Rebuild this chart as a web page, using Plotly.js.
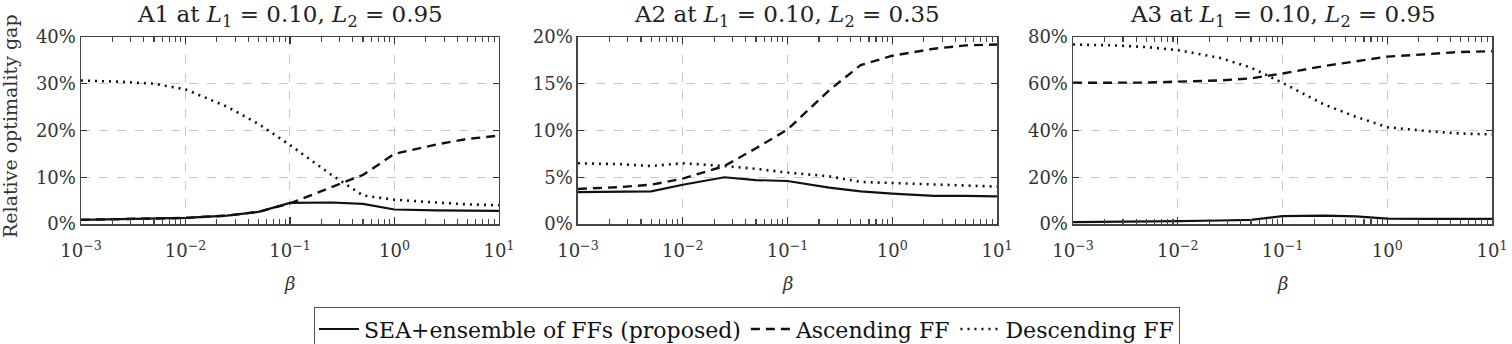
<!DOCTYPE html>
<html>
<head>
<meta charset="utf-8">
<script src="https://cdn.plot.ly/plotly-3.0.1.min.js"></script>
<style>html,body{margin:0;padding:0;background:#fff;}#chart{width:1512px;height:344px;}</style>
</head>
<body>
<div id="chart"></div>
<script>
// beta grid
const beta = [0.001, 0.0025, 0.005, 0.01, 0.025, 0.05, 0.1, 0.25, 0.5, 1, 2.5, 5, 10];

// Panel A1 (L1=0.10, L2=0.95)
const a1Proposed   = [0.9, 1.0, 1.1, 1.3, 1.8, 2.6, 4.5, 4.6, 4.3, 3.1, 2.9, 2.8, 2.8];
const a1Ascending  = [0.9, 1.0, 1.1, 1.3, 1.8, 2.6, 4.4, 7.9, 10.5, 15.0, 17.0, 18.2, 18.9];
const a1Descending = [30.7, 30.4, 30.0, 28.8, 25.1, 21.4, 16.9, 10.5, 6.1, 5.2, 4.6, 4.2, 4.0];

// Panel A2 (L1=0.10, L2=0.35)
const a2Proposed   = [3.4, 3.5, 3.5, 4.2, 5.0, 4.7, 4.6, 3.9, 3.5, 3.25, 3.0, 3.0, 2.95];
const a2Ascending  = [3.75, 3.95, 4.2, 4.85, 6.2, 8.1, 10.1, 14.3, 17.0, 18.0, 18.75, 19.1, 19.2];
const a2Descending = [6.5, 6.4, 6.2, 6.5, 6.2, 5.9, 5.5, 5.1, 4.5, 4.4, 4.2, 4.1, 4.0];

// Panel A3 (L1=0.10, L2=0.95)
const a3Proposed   = [0.8, 0.9, 1.0, 1.2, 1.5, 1.8, 3.4, 3.6, 3.3, 2.3, 2.2, 2.2, 2.2];
const a3Ascending  = [60.4, 60.4, 60.5, 60.9, 61.4, 62.3, 64.4, 67.6, 69.6, 71.6, 72.7, 73.6, 73.9];
const a3Descending = [76.8, 76.4, 75.7, 74.4, 71.1, 66.9, 60.4, 51.1, 45.9, 41.4, 39.7, 38.7, 38.3];

const seriesNames = ['SEA+ensemble of FFs (proposed)', 'Ascending FF', 'Descending FF'];
const panelTitles = [
  'A1 at <i>L</i><sub>1</sub> = 0.10, <i>L</i><sub>2</sub> = 0.95',
  'A2 at <i>L</i><sub>1</sub> = 0.10, <i>L</i><sub>2</sub> = 0.35',
  'A3 at <i>L</i><sub>1</sub> = 0.10, <i>L</i><sub>2</sub> = 0.95'
];
const xTickVals = [0.001, 0.01, 0.1, 1, 10];
const xTickText = ['10<sup>−3</sup>', '10<sup>−2</sup>', '10<sup>−1</sup>', '10<sup>0</sup>', '10<sup>1</sup>'];
const yMax = [40, 20, 80];
const yTicks = [[0,10,20,30,40],[0,5,10,15,20],[0,20,40,60,80]];
const panels = [
  [a1Proposed, a1Ascending, a1Descending],
  [a2Proposed, a2Ascending, a2Descending],
  [a3Proposed, a3Ascending, a3Descending]
];

// minor log tick positions (2..9 within each decade)
const minorVals = [];
xTickVals.slice(0, -1).forEach(dec => {
  for (let k = 2; k <= 9; k++) minorVals.push(+(k * dec).toPrecision(3));
});

const dashes = ['solid', '9px,6px', '2px,5px'];
const widths = [2.2, 2.4, 2.6];
const traces = [];
panels.forEach((p, i) => {
  p.forEach((vals, j) => {
    traces.push({
      x: beta, y: vals, type: 'scatter', mode: 'lines',
      name: seriesNames[j], legendgroup: 'g' + j, showlegend: i === 0,
      xaxis: i === 0 ? 'x' : 'x' + (i + 1),
      yaxis: i === 0 ? 'y' : 'y' + (i + 1),
      line: {color: '#111', width: widths[j], dash: dashes[j]}
    });
  });
});

const FONT = 'DejaVu Serif, Liberation Serif, serif';
const domains = [[0, 0.2962], [0.3522, 0.6492], [0.7031, 1]];
const layout = {
  width: 1512, height: 344,
  margin: {l: 81, r: 20, t: 37, b: 120, autoexpand: false},
  paper_bgcolor: '#fff', plot_bgcolor: '#fff',
  font: {family: FONT, size: 17, color: '#222'},
  showlegend: true,
  legend: {
    orientation: 'h', x: (314 - 81) / 1411, xanchor: 'left', y: -0.445, yanchor: 'top',
    bordercolor: '#555', borderwidth: 1, font: {family: FONT, size: 22, color: '#111'},
    itemwidth: 40, tracegroupgap: 0
  },
  annotations: []
};

domains.forEach((d, i) => {
  const sx = i === 0 ? '' : String(i + 1);
  layout['xaxis' + sx] = {
    domain: d, type: 'log', range: [-3, 1], anchor: 'y' + sx,
    tickmode: 'array', tickvals: xTickVals, ticktext: xTickText, ticklabelstandoff: 10,
    tickfont: {family: FONT, size: 18, color: '#333'},
    ticks: 'inside', ticklen: 7, tickcolor: '#333', tickwidth: 1.2,
    showline: true, mirror: 'ticks', linecolor: '#444', linewidth: 1.5,
    showgrid: true, gridcolor: '#c8c8c8', griddash: 'dash', gridwidth: 1,
    zeroline: false,
    minor: {tickmode: 'array', tickvals: minorVals, ticks: 'inside', ticklen: 5,
            tickcolor: '#444', tickwidth: 1.1, showgrid: false}
  };
  layout['yaxis' + sx] = {
    domain: [0, 1], range: [0, yMax[i]], anchor: 'x' + sx,
    tickvals: yTicks[i], ticktext: yTicks[i].map(v => v + '%'),
    tickfont: {family: FONT, size: 18, color: '#333'},
    ticks: 'inside', ticklen: 6, tickcolor: '#333', tickwidth: 1.2,
    showline: true, mirror: 'ticks', linecolor: '#444', linewidth: 1.5,
    showgrid: true, gridcolor: '#c8c8c8', griddash: 'dash', gridwidth: 1,
    zeroline: false
  };
  const cx = (d[0] + d[1]) / 2;
  layout.annotations.push({
    text: panelTitles[i], xref: 'paper', yref: 'paper', x: cx, y: 1.11,
    xanchor: 'center', yanchor: 'middle', showarrow: false,
    font: {family: FONT, size: 23, color: '#222'}
  });
  layout.annotations.push({
    text: '<i>β</i>', xref: 'paper', yref: 'paper', x: cx, y: -0.316,
    xanchor: 'center', yanchor: 'middle', showarrow: false,
    font: {family: FONT, size: 18, color: '#333'}
  });
});
layout.annotations.push({
  text: 'Relative optimality gap', xref: 'paper', yref: 'paper',
  x: (10 - 81) / 1411, y: (224 - 126) / 187, xanchor: 'center', yanchor: 'middle',
  textangle: -90, showarrow: false, font: {family: FONT, size: 19, color: '#333'}
});

Plotly.newPlot('chart', traces, layout, {displayModeBar: false, staticPlot: true});
</script>
</body>
</html>
